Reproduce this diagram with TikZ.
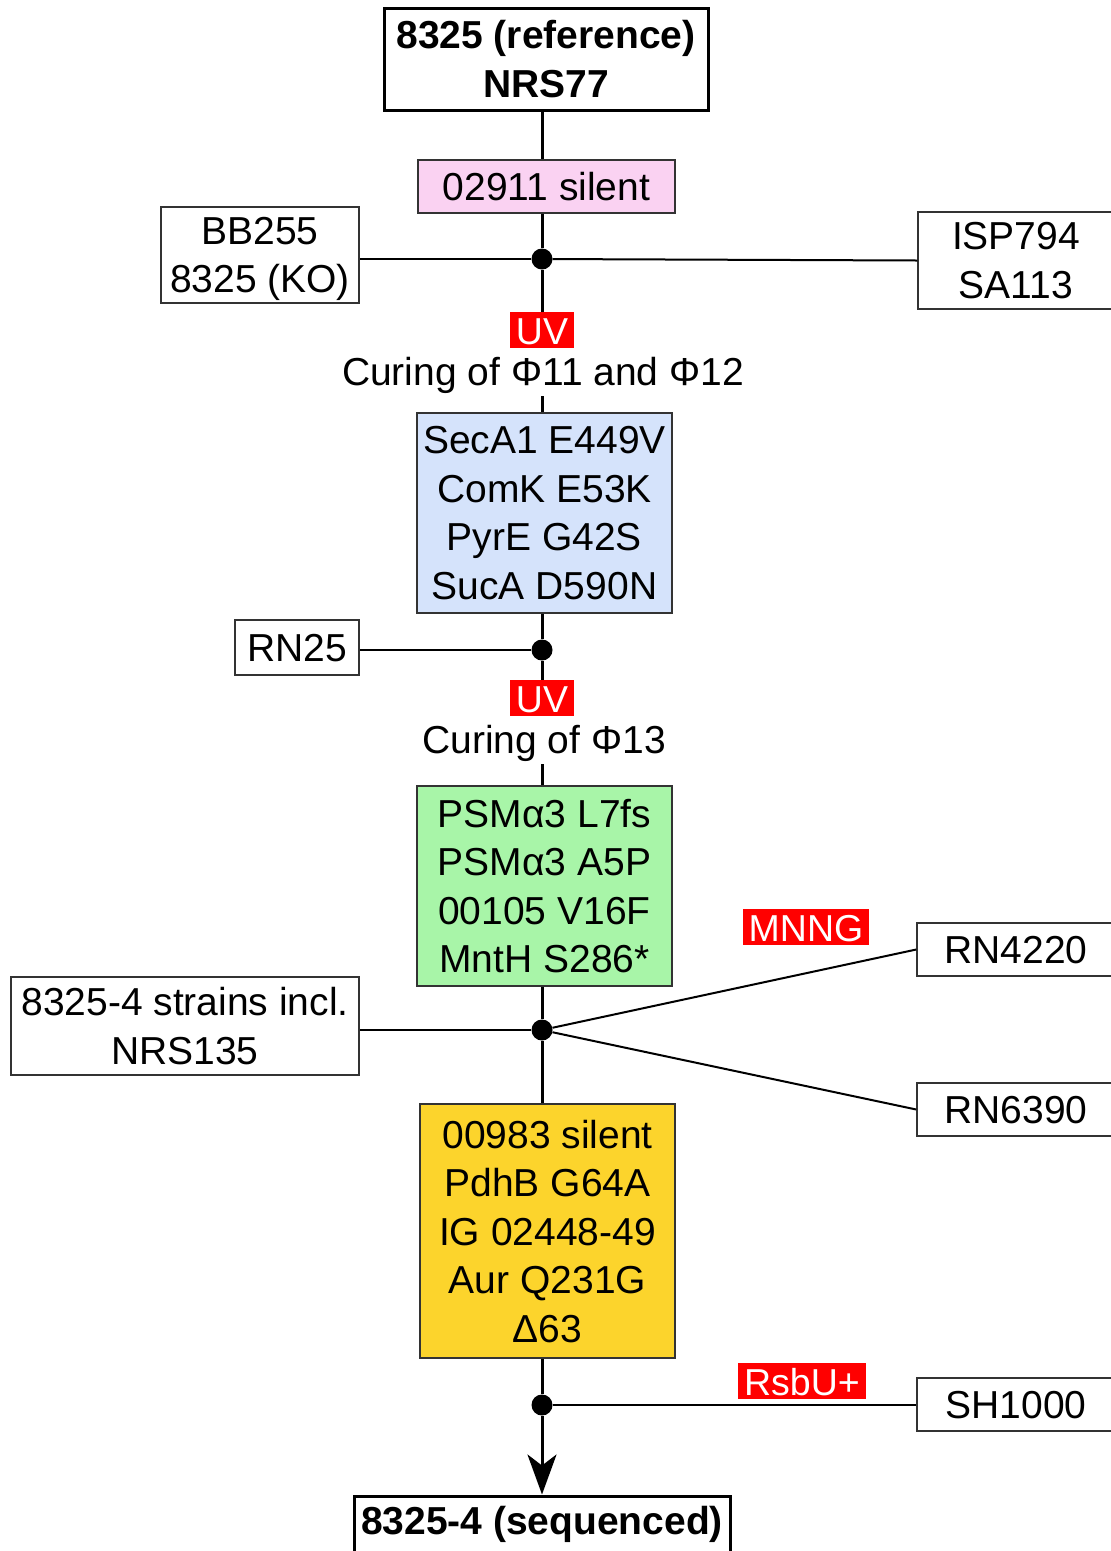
\documentclass[tikz,border=0pt]{standalone}
\usepackage{fontspec}
\setmainfont{Liberation Sans}
\usetikzlibrary{arrows.meta}
\definecolor{pinkbox}{RGB}{250,210,242}
\definecolor{bluebox}{RGB}{213,227,251}
\definecolor{greenbox}{RGB}{168,245,168}
\definecolor{yellowbox}{RGB}{252,212,44}
\definecolor{tagred}{RGB}{255,0,0}
\begin{document}
\begin{tikzpicture}[x=1pt,y=-1pt,
  box/.style={draw=black!80, line width=1.5pt, align=center, inner sep=0pt,
    font=\fontsize{39}{48.5}\selectfont, text depth=0pt},
  mainbox/.style={box, draw=black, line width=3pt,
    font=\bfseries\fontsize{39}{48.5}\selectfont},
  tag/.style={fill=tagred, text=white, font=\fontsize{37.5}{37.5}\selectfont,
    inner xsep=6pt, inner ysep=4pt, text height=28pt, text depth=0pt},
  plaintext/.style={anchor=base, inner sep=3pt, font=\fontsize{39}{48.5}\selectfont},
  joint/.style={circle, fill=black, inner sep=0pt, minimum size=21pt},
  trunk/.style={line width=3pt},
  link/.style={line width=2pt}]
\useasboundingbox (0,0) rectangle (1111,1551);

% main column nodes
\node[mainbox, minimum width=324pt, minimum height=102pt] (top) at (546,59) {8325 (reference)\\NRS77};
\node[box, fill=pinkbox, minimum width=257pt, minimum height=53pt] (pink) at (546.5,186.5) {02911 silent};
\node[joint] (d1) at (542,259) {};
\node[tag] (uv1) at (542,330) {UV};
\node[plaintext] (cure1) at (543,385) {Curing of Φ11 and Φ12};
\node[box, fill=bluebox, minimum width=255pt, minimum height=200pt] (blue) at (544.5,513)
  {SecA1 E449V\\ComK E53K\\PyrE G42S\\SucA D590N};
\node[joint] (d2) at (542,650) {};
\node[tag] (uv2) at (542,698) {UV};
\node[plaintext] (cure2) at (544,753) {Curing of Φ13};
\node[box, fill=greenbox, minimum width=255pt, minimum height=200pt] (green) at (544.5,886)
  {PSMα3 L7fs\\PSMα3 A5P\\00105 V16F\\MntH S286*};
\node[joint] (d3) at (542,1030) {};
\node[box, fill=yellowbox, minimum width=255pt, minimum height=254pt] (yellow) at (547.5,1231)
  {00983 silent\\PdhB G64A\\IG 02448-49\\Aur Q231G\\Δ63};
\node[joint] (d4) at (542,1405) {};
\node[mainbox, minimum width=376pt, minimum height=70pt, text depth=20.5pt] (bottom) at (542,1531)
  {8325-4 (sequenced)};

% side strain boxes
\node[box, minimum width=198pt, minimum height=96pt] (bb) at (260,255) {BB255\\8325 (KO)};
\node[box, minimum width=196pt, minimum height=97pt] (isp) at (1016,260.5) {ISP794\\SA113};
\node[box, minimum width=124pt, minimum height=55pt] (rn25) at (297,647.5) {RN25};
\node[box, minimum width=348pt, minimum height=98pt] (strains) at (185,1026) {8325-4 strains incl.\\NRS135};
\node[box, minimum width=198pt, minimum height=53pt] (rn4220) at (1016,949.5) {RN4220};
\node[box, minimum width=198pt, minimum height=53pt] (rn6390) at (1016,1109.5) {RN6390};
\node[box, minimum width=198pt, minimum height=53pt] (sh) at (1016,1404.5) {SH1000};

% treatment tags
\node[tag] (mnng) at (806,927) {MNNG};
\node[tag] (rsbu) at (802,1381) {RsbU+};

% trunk
\draw[trunk] (top.south -| d1) -- (pink.north -| d1);
\draw[trunk] (pink.south -| d1) -- (d1);
\draw[trunk] (d1) -- (uv1.north);
\draw[trunk] (cure1.south -| d1) -- (blue.north -| d1);
\draw[trunk] (blue.south -| d2) -- (d2);
\draw[trunk] (d2) -- (uv2.north);
\draw[trunk] (cure2.south -| d2) -- (green.north -| d2);
\draw[trunk] (green.south -| d3) -- (d3);
\draw[trunk] (d3) -- (yellow.north -| d3);
\draw[trunk] (yellow.south -| d4) -- (d4);
\draw[trunk, -{Stealth[length=40pt, width=29pt, inset=11pt]}] (d4) -- (bottom.north -| d4);

% branches
\draw[link] (d1) -- (d1 -| bb.east);
\draw[link] (d1) -- (isp.west);
\draw[link] (d2) -- (d2 -| rn25.east);
\draw[link] (d3) -- (d3 -| strains.east);
\draw[link] (d3) -- (rn4220.west);
\draw[link] (d3) -- (rn6390.west);
\draw[link] (d4) -- (d4 -| sh.west);
\end{tikzpicture}
\end{document}
